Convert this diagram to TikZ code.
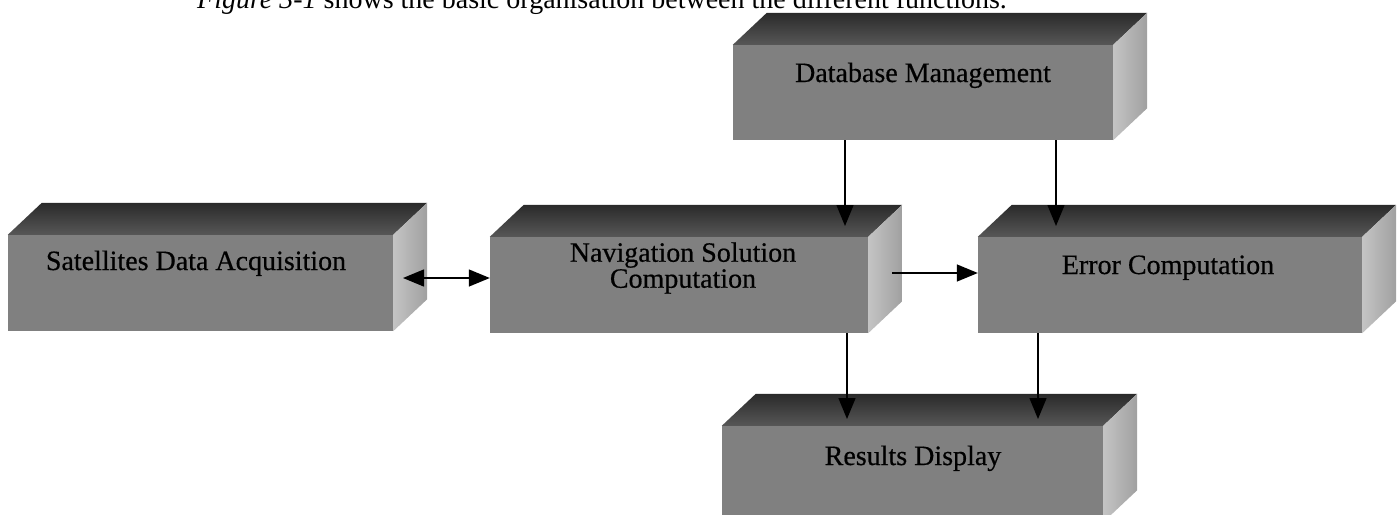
\documentclass[tikz,border=0pt]{standalone}
\usepackage{fontspec}
\setmainfont{Liberation Serif}
\newfontfamily\boxfont{Liberation Serif}[FakeBold=0.5]
\usetikzlibrary{calc,arrows.meta}
\definecolor{boxfront}{HTML}{808080}
\definecolor{boxtopback}{HTML}{2A2A2A}
\definecolor{boxtopfront}{HTML}{575757}
\definecolor{boxsideA}{HTML}{C4C4C4}
\definecolor{boxsideB}{HTML}{A0A0A0}
\tikzset{
  face/.style={fill=boxfront, draw=none, inner sep=0pt, minimum height=96pt},
  boxtext/.style={font=\boxfont\fontsize{28}{26}\selectfont, text=black, inner sep=0pt, align=center},
  arr/.style={line width=1.4pt, -{Triangle[length=21pt,width=17pt]}},
  darr/.style={line width=1.4pt, {Triangle[length=21pt,width=17pt]}-{Triangle[length=21pt,width=17pt]}},
}
\newcommand\cubeFaces[1]{%
  \shade[top color=boxtopback, bottom color=boxtopfront]
    (#1.north west) -- ++(34,-32) -- ($(#1.north east)+(34,-32)$) -- (#1.north east) -- cycle;
  \shade[left color=boxsideA, right color=boxsideB]
    (#1.north east) -- ++(34,-32) -- ($(#1.south east)+(34,-32)$) -- (#1.south east) -- cycle;
}
\begin{document}
\begin{tikzpicture}[x=1pt,y=-1pt]
\useasboundingbox (0,0) rectangle (1399,514);
\clip (0,0) rectangle (1399,514);
\fill[white] (0,0) rectangle (1399,514);

% caption line, cut off at the top
\node[anchor=base west, inner sep=0pt, font=\fontsize{28}{30}\selectfont] (cap) at (197,9)
  {\textit{Figure 3-1} shows the basic organisation between the different functions.};

% front faces
\node[face, minimum width=385pt] (sat) at (200.5,283) {};
\node[face, minimum width=378pt] (nav) at (679,285) {};
\node[face, minimum width=384pt] (err) at (1170,285) {};
\node[face, minimum width=380pt, minimum height=95pt] (db) at (923,92.5) {};
\node[face, minimum width=381pt] (res) at (912.5,474) {};

\cubeFaces{sat}
\cubeFaces{nav}
\cubeFaces{err}
\cubeFaces{db}
\cubeFaces{res}

% labels
\node[boxtext, anchor=base] (satL) at (196,270) {Satellites Data Acquisition};
\node[boxtext] (navL) at (683,268) {Navigation Solution\\Computation};
\node[boxtext, anchor=base] (errL) at (1168,274) {Error Computation};
\node[boxtext, anchor=base] (dbL) at (923,82) {Database Management};
\node[boxtext, anchor=base] (resL) at (913,465) {Results Display};

% connector end points
\coordinate (satTip) at (403,278);
\coordinate (navOut) at (892,273);
\coordinate (dbNav) at (845,226);
\coordinate (dbErr) at (1056,226);
\coordinate (navRes) at (847,419);
\coordinate (errRes) at (1038,419);

\draw[darr] (satTip) -- (nav.west |- satTip);
\draw[arr] (navOut) -- (err.west |- navOut);
\draw[arr] (db.south -| dbNav) -- (dbNav);
\draw[arr] (db.south -| dbErr) -- (dbErr);
\draw[arr] (nav.south -| navRes) -- (navRes);
\draw[arr] (err.south -| errRes) -- (errRes);
\end{tikzpicture}
\end{document}
